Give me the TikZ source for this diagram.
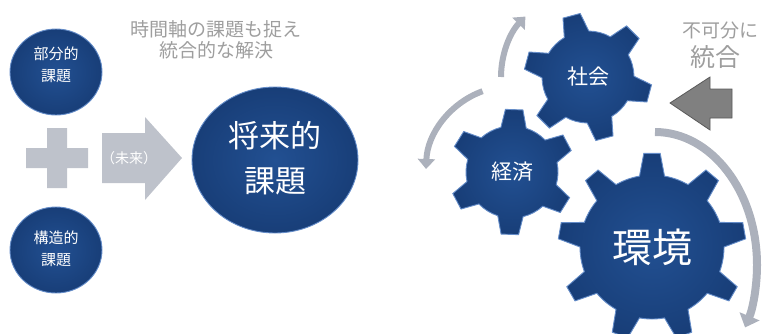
\documentclass[tikz,border=0pt]{standalone}
\usepackage{fontspec}
\setmainfont{Noto Sans CJK JP}
\usetikzlibrary{shapes.geometric,arrows.meta}

\definecolor{navy}{RGB}{34,80,146}
\definecolor{navydark}{RGB}{24,62,120}
\definecolor{navyrim}{RGB}{100,140,200}
\definecolor{paleblock}{RGB}{190,194,203}
\definecolor{captiongray}{RGB}{158,158,158}
\definecolor{swirl}{RGB}{172,177,188}
\definecolor{pushgray}{RGB}{128,128,128}

\tikzset{
  ball/.style={ellipse, inner sep=0pt, inner color=navy, outer color=navydark,
    draw=navyrim, line width=0.9pt},
  balltext/.style={text=white, align=center},
  gearfill/.style={inner color=navy, outer color=navydark, draw=navyrim, line width=0.9pt},
  caption/.style={text=captiongray, align=center},
  swirlarrow/.style={draw=swirl, line width=6pt, -{Triangle[width=17pt,length=10pt]}},
}

% cog: centre, teeth, body radius, tip radius, half angle at base, half angle at tip, offset
\newcommand{\cog}[7]{%
  \pgfmathsetmacro{\cogstep}{360/#2}
  \pgfmathtruncatemacro{\coglast}{#2-1}
  \path[gearfill, shift={(#1)}] ({#7-#5}:#3)
    \foreach \k in {0,...,\coglast}{
      -- ({#7+\k*\cogstep-#6}:#4) -- ({#7+\k*\cogstep+#6}:#4)
      -- ({#7+\k*\cogstep+#5}:#3)
      arc[start angle={#7+\k*\cogstep+#5}, end angle={#7+(\k+1)*\cogstep-#5}, radius=#3]
    } -- cycle;
}

\begin{document}
\begin{tikzpicture}[x=1pt,y=-1pt]
\useasboundingbox (0,0) rectangle (765,333);

% two partial problems and the future one
\node[ball, minimum width=92pt, minimum height=86pt] (partial) at (56,72) {};
\node[balltext, font=\fontsize{15}{22}\selectfont] (partial-label) at (56,65) {部分的\\課題};
\node[ball, minimum width=92pt, minimum height=86pt] (structural) at (56,250) {};
\node[balltext, font=\fontsize{15}{22}\selectfont] (structural-label) at (56,249) {構造的\\課題};
\node[ball, minimum width=166pt, minimum height=146pt] (future) at (275,160) {};
\node[balltext, font=\fontsize{31}{45}\selectfont] (future-label) at (275,158) {将来的\\課題};

% plus and forward arrow
\fill[paleblock] (47,128) -- (67,128) -- (67,148) -- (88,148) -- (88,168) -- (67,168)
  -- (67,188) -- (47,188) -- (47,168) -- (26,168) -- (26,148) -- (47,148) -- cycle;
\fill[paleblock] (102,133) -- (145,133) -- (145,117) -- (182,158) -- (145,200)
  -- (145,183) -- (102,183) -- cycle;
\node[text=white, font=\fontsize{14}{16}\selectfont] (toward) at (129,158) {（未来）};

\node[caption, font=\fontsize{19}{21}\selectfont] (timeaxis) at (216,40)
  {時間軸の課題も捉え\\統合的な解決};

% gears
\coordinate (cog-env) at (652,247);
\coordinate (cog-eco) at (512,172);
\coordinate (cog-soc) at (588,77);
\cog{cog-env}{9}{72}{94}{10}{5}{30}
\cog{cog-eco}{6}{46}{63}{16}{8}{32}
\cog{cog-soc}{6}{46}{64}{16}{8}{15}
\node[balltext, font=\fontsize{40}{40}\selectfont] (kankyo) at (cog-env) {環境};
\node[balltext, font=\fontsize{21}{21}\selectfont] (keizai) at (cog-eco) {経済};
\node[balltext, font=\fontsize{21}{21}\selectfont] (shakai) at (cog-soc) {社会};

% turning arrows round the gears
\draw[swirlarrow] ([shift={(180:87)}]cog-soc) arc[start angle=180, end angle=224, radius=87];
\draw[swirlarrow] ([shift={(250:86)}]cog-eco) arc[start angle=250, end angle=182, radius=86];
\draw[swirlarrow, line width=8pt, -{Triangle[width=21pt,length=12pt]}]
  (655,132) arc[start angle=-90, end angle=28, x radius=102, y radius=133];

% pushing in from the right
\filldraw[fill=pushgray, draw=pushgray!70!black, line width=0.8pt]
  (670,103) -- (710,77) -- (710,89) -- (732,89) -- (732,118) -- (710,118) -- (710,130) -- cycle;
\node[caption, font=\fontsize{19}{19}\selectfont] (inseparable) at (720,30) {不可分に};
\node[caption, font=\fontsize{25}{25}\selectfont] (integrate) at (715,57) {統合};
\end{tikzpicture}
\end{document}
